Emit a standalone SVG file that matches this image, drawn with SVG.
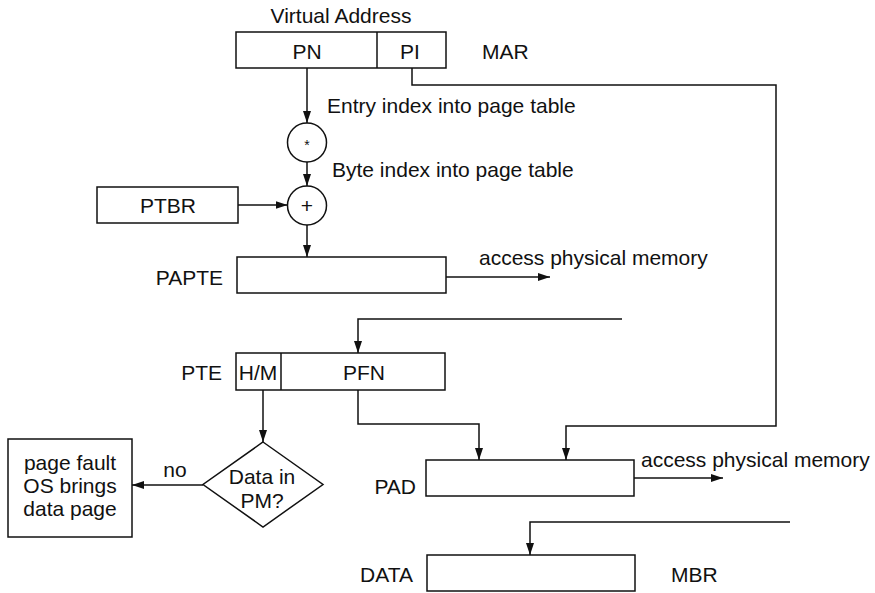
<svg xmlns="http://www.w3.org/2000/svg" width="875" height="593" viewBox="0 0 875 593">
<defs>
<marker id="ah" viewBox="0 0 12 8" refX="12" refY="4" markerWidth="12" markerHeight="8" markerUnits="userSpaceOnUse" orient="auto">
<path d="M0,0 L12,4 L0,8 Z" fill="#111"/>
</marker>
</defs>
<style>
.box{fill:#fff;stroke:#111;stroke-width:1.5}
.ln{fill:none;stroke:#111;stroke-width:1.5}
.ar{fill:none;stroke:#111;stroke-width:1.5;marker-end:url(#ah)}
text{font-family:"Liberation Sans",Arial,Helvetica,sans-serif;font-size:21px;fill:#111}
.m{text-anchor:middle}
.e{text-anchor:end}
</style>
<rect width="875" height="593" fill="#fff"/>

<g id="connectors">
<line class="ar" x1="307" y1="68" x2="307" y2="123"/>
<line class="ar" x1="307" y1="162" x2="307" y2="186"/>
<line class="ar" x1="238" y1="205" x2="287.5" y2="205"/>
<line class="ar" x1="307" y1="225" x2="307" y2="257"/>
<line class="ar" x1="446" y1="277" x2="550" y2="277"/>
<polyline class="ar" points="622,319 358,319 358,353"/>
<line class="ar" x1="263" y1="390" x2="263" y2="442"/>
<line class="ar" x1="203" y1="485" x2="132" y2="485"/>
<polyline class="ar" points="358,390 358,424 479,424 479,460"/>
<polyline class="ar" points="412,68 412,85 776,85 776,426 566,426 566,460"/>
<line class="ar" x1="634" y1="478" x2="723" y2="478"/>
<polyline class="ar" points="790,522 530,522 530,555"/>
</g>

<g id="mar">
<text class="m" x="341" y="23">Virtual Address</text>
<rect class="box" x="236" y="32" width="210" height="36"/>
<line class="ln" x1="377" y1="32" x2="377" y2="68"/>
<text class="m" x="307" y="59">PN</text>
<text class="m" x="410" y="59">PI</text>
<text x="482" y="59">MAR</text>
</g>

<g id="label-entry"><text x="327" y="113">Entry index into page table</text></g>

<g id="mult">
<circle class="box" cx="307" cy="142.5" r="19.5"/>
<text class="m" x="307" y="150" style="font-size:14px">*</text>
</g>

<g id="label-byte"><text x="332" y="177">Byte index into page table</text></g>

<g id="ptbr">
<rect class="box" x="97" y="187" width="141" height="36"/>
<text class="m" x="168" y="213">PTBR</text>
</g>

<g id="add">
<circle class="box" cx="307" cy="205.5" r="19.5"/>
<text class="m" x="307" y="213">+</text>
</g>

<g id="papte">
<text class="e" x="223" y="285">PAPTE</text>
<rect class="box" x="237" y="257" width="209" height="36"/>
<text x="479" y="265">access physical memory</text>
</g>

<g id="pte">
<text class="e" x="222" y="380">PTE</text>
<rect class="box" x="236" y="353" width="209" height="37"/>
<line class="ln" x1="281" y1="353" x2="281" y2="390"/>
<text class="m" x="258" y="380">H/M</text>
<text class="m" x="364" y="380">PFN</text>
</g>

<g id="decision">
<polygon class="box" points="263,442 323,484.5 263,527 203,484.5"/>
<text class="m" x="262" y="484">Data in</text>
<text class="m" x="262" y="508">PM?</text>
</g>

<g id="no-label"><text class="m" x="175" y="477">no</text></g>

<g id="pagefault">
<rect class="box" x="8" y="439" width="124" height="98"/>
<text class="m" x="70" y="470">page fault</text>
<text class="m" x="70" y="493">OS brings</text>
<text class="m" x="70" y="516">data page</text>
</g>

<g id="pad">
<text class="e" x="416" y="494">PAD</text>
<rect class="box" x="426" y="460" width="208" height="36"/>
<text x="641" y="467">access physical memory</text>
</g>

<g id="data">
<text class="e" x="413" y="582">DATA</text>
<rect class="box" x="427" y="555" width="208" height="36"/>
<text x="671" y="582">MBR</text>
</g>
</svg>
